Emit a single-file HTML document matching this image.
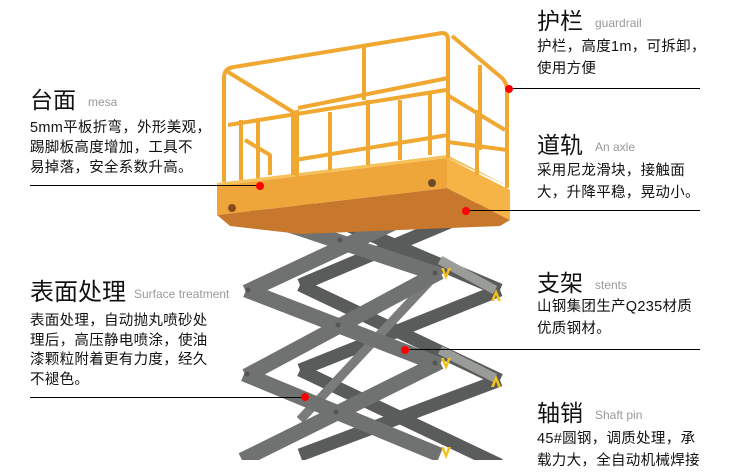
<!DOCTYPE html>
<html><head><meta charset="utf-8"><style>
body{margin:0;width:750px;height:460px;overflow:hidden;background:#fff;position:relative;font-family:"Liberation Sans","Noto Sans CJK SC",sans-serif;color:#111}
.t{position:absolute;font-size:23px;line-height:26px;white-space:nowrap}
.t span{font-size:12px;color:#999;margin-left:12px;vertical-align:middle}
.b{position:absolute;font-size:14.5px;line-height:21.5px;white-space:nowrap;letter-spacing:0.3px}
svg{position:absolute;left:0;top:0}
</style></head><body>
<svg width="750" height="460">
<g stroke-linecap="butt">
<g stroke="#5a5c5c" stroke-width="13">
<line x1="300" y1="205" x2="500" y2="290"/><line x1="300" y1="285" x2="490" y2="205"/>
<line x1="300" y1="285" x2="500" y2="380"/><line x1="300" y1="370" x2="500" y2="290"/>
<line x1="300" y1="370" x2="500" y2="465"/><line x1="300" y1="455" x2="500" y2="380"/>
</g>
<line x1="440" y1="260" x2="495" y2="290" stroke="#9a9c98" stroke-width="9"/>
<line x1="440" y1="350" x2="495" y2="378" stroke="#9a9c98" stroke-width="9"/>
<line x1="300" y1="420" x2="440" y2="270" stroke="#7a7c7a" stroke-width="9"/>
<g stroke="#6f7271" stroke-width="15">
<line x1="250" y1="212" x2="440" y2="275"/><line x1="246" y1="292" x2="432" y2="205"/>
<line x1="246" y1="290" x2="440" y2="365"/><line x1="246" y1="376" x2="440" y2="272"/>
<line x1="244" y1="374" x2="440" y2="455"/><line x1="242" y1="460" x2="440" y2="362"/>
</g>
<g fill="#555"><circle cx="340" cy="240" r="2.5"/><circle cx="338" cy="325" r="2.5"/><circle cx="336" cy="412" r="2.5"/><circle cx="248" cy="290" r="2.5"/><circle cx="247" cy="374" r="2.5"/><circle cx="435" cy="273" r="2.5"/><circle cx="435" cy="363" r="2.5"/></g>
<g fill="#f2c21a"><path d="M441 268l5 12 5-12h-3l-2 6-2-6z"/><path d="M491 289l5 12 5-12h-3l-2 6-2-6z" transform="rotate(180 496 295)"/><path d="M441 358l5 12 5-12h-3l-2 6-2-6z"/><path d="M491 375l5 12 5-12h-3l-2 6-2-6z" transform="rotate(180 496 381)"/><path d="M441 447l5 12 5-12h-3l-2 6-2-6z"/></g>
</g>
<polygon points="217,215 447,188 510,220 500,226 300,234 230,226" fill="#c8782c"/>
<polygon points="217,186 447,158 447,188 217,215" fill="#eea63a"/>
<polygon points="447,158 510,190 510,220 447,188" fill="#f5b445"/>
<polygon points="217,183 447,155 510,187 447,158 217,186" fill="#f7c15a"/>
<circle cx="432" cy="183" r="4" fill="#6b4a2a"/><circle cx="232" cy="208" r="4" fill="#8b4a1a"/>
<g stroke="#f0a830" stroke-width="4" fill="none" stroke-linejoin="round">
<path d="M224 182 V78 Q224 68 234 67 L442 33 Q448 33 448 40 V158"/>
<path d="M452 36 L502 78 Q507 83 507 90 V188"/>
<path d="M228 125 L446 90 M449 96 L505 130"/>
<path d="M228 72 L293 112 V175 M298 108 L448 78 M241 120 V180 M258 118 V178 M297 110 V180 M364 47 V100 M330 112 V170 M368 100 V165 M400 100 V160 M430 94 V155 M477 110 V175 M480 65 V150"/>
<path d="M245 140 L270 155 V175 M295 160 L448 135 M448 142 L507 150"/>
</g>
</svg>
<div style="position:absolute;left:30px;top:185px;width:230px;height:1px;background:#000"></div>
<div style="position:absolute;left:509px;top:88px;width:191px;height:1px;background:#000"></div>
<div style="position:absolute;left:466px;top:210px;width:234px;height:1px;background:#000"></div>
<div style="position:absolute;left:405px;top:349px;width:295px;height:1px;background:#000"></div>
<div style="position:absolute;left:30px;top:397px;width:275px;height:1px;background:#000"></div>
<svg width="750" height="460"><g fill="#f00"><circle cx="260" cy="186" r="4"/><circle cx="509" cy="89" r="4"/><circle cx="466" cy="211" r="4"/><circle cx="405" cy="350" r="4"/><circle cx="305" cy="397" r="4"/></g></svg>

<div class="t" style="left:30px;top:87px">台面<span>mesa</span></div>
<div class="b" style="left:30px;top:118px;line-height:20px">5mm平板折弯，外形美观，<br>踢脚板高度增加，工具不<br>易掉落，安全系数升高。</div>

<div class="t" style="left:537px;top:8px">护栏<span>guardrail</span></div>
<div class="b" style="left:537px;top:37px">护栏，高度1m，可拆卸，<br>使用方便</div>

<div class="t" style="left:537px;top:132px">道轨<span>An axle</span></div>
<div class="b" style="left:537px;top:161px">采用尼龙滑块，接触面<br>大，升降平稳，晃动小。</div>

<div class="t" style="left:30px;top:280px;font-size:24px">表面处理<span style="margin-left:8px">Surface treatment</span></div>
<div class="b" style="left:30px;top:312px;line-height:19.5px">表面处理，自动抛丸喷砂处<br>理后，高压静电喷涂，使油<br>漆颗粒附着更有力度，经久<br>不褪色。</div>

<div class="t" style="left:537px;top:270px">支架<span>stents</span></div>
<div class="b" style="left:537px;top:297px">山钢集团生产Q235材质<br>优质钢材。</div>

<div class="t" style="left:537px;top:400px">轴销<span>Shaft pin</span></div>
<div class="b" style="left:537px;top:429px">45#圆钢，调质处理，承<br>载力大，全自动机械焊接</div>
</body></html>
